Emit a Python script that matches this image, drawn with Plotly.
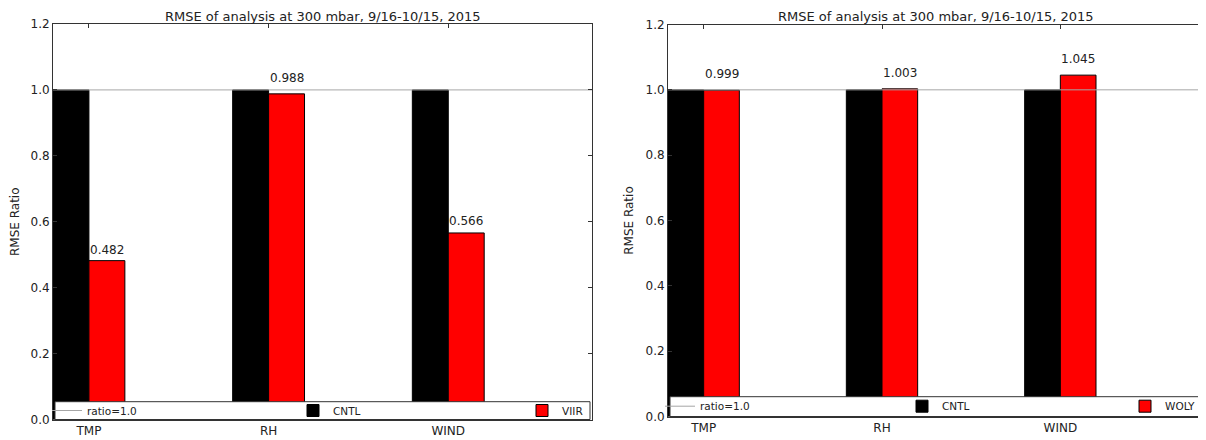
import numpy as np
import plotly.graph_objects as go

# ---------------- data ----------------
categories = ["TMP", "RH", "WIND"]
cntl_left = [1.0, 1.0, 1.0]
viir = [0.482, 0.988, 0.566]
cntl_right = [1.0, 1.0, 1.0]
woly = [0.999, 1.003, 1.045]
ratio_ref = 1.0
y_ticks = [0.0, 0.2, 0.4, 0.6, 0.8, 1.0, 1.2]
title_text = "RMSE of analysis at 300 mbar, 9/16-10/15, 2015"
exp_names = ["VIIR", "WOLY"]

# ---------------- layout helpers ----------------
# page body has an 8px default margin, so the figure is offset by 8px
OFF = 8
W, H = 1206 - OFF, 440 - OFF
ind = np.arange(len(categories))
bar_w = 0.2
x_range = [0, 3.0]
FONT = "DejaVu Sans"
TXT = "#222222"
FRAME = "#333333"


def px_x(p):
    return (p - OFF) / W


def px_y(p):
    return 1 - (p - OFF) / H


panels = [
    dict(xd=[px_x(53), px_x(592)], yd=[px_y(419.5), px_y(24)], cntl=cntl_left, exp=viir,
         ename=exp_names[0], ax="", leg=["legend", "legend2", "legend3"],
         leg_x=[47, 293, 522], leg_y=410.5, box_top=401.7, box_bot=419.5, box_l=55, box_r=590),
    dict(xd=[px_x(668), px_x(1203)], yd=[px_y(416.5), px_y(24.5)], cntl=cntl_right, exp=woly,
         ename=exp_names[1], ax="2", leg=["legend4", "legend5", "legend6"],
         leg_x=[660, 902, 1125], leg_y=406.2, box_top=396.7, box_bot=416.5, box_l=670, box_r=1201),
]

fig = go.Figure()
annotations = []
shapes = []
layout_extra = {}

for p in panels:
    xa = "x" + p["ax"]
    ya = "y" + p["ax"]
    # bars
    fig.add_trace(go.Bar(x=ind, y=p["cntl"], width=bar_w, offset=0, name="CNTL",
                         marker=dict(color="#000000", line=dict(color="#000000", width=1)),
                         xaxis=xa, yaxis=ya, legend=p["leg"][1]))
    fig.add_trace(go.Bar(x=ind, y=p["exp"], width=bar_w, offset=bar_w, name=p["ename"],
                         marker=dict(color="#ff0000", line=dict(color="#000000", width=1)),
                         xaxis=xa, yaxis=ya, legend=p["leg"][2]))
    # ratio line
    fig.add_trace(go.Scatter(x=x_range, y=[ratio_ref, ratio_ref], mode="lines", name="ratio=1.0",
                             line=dict(color="#a6a6a6", width=1), xaxis=xa, yaxis=ya,
                             legend=p["leg"][0]))
    # value labels
    for i, v in enumerate(p["exp"]):
        annotations.append(dict(x=ind[i] + 1.5 * bar_w, y=1.03 * v, xref=xa, yref=ya,
                                text="%.3f" % v, showarrow=False, yanchor="bottom", yshift=-3,
                                xanchor="center", font=dict(size=12, color=TXT, family=FONT)))
    # title
    annotations.append(dict(x=(p["xd"][0] + p["xd"][1]) / 2, y=px_y(16.5), xref="paper", yref="paper",
                            text=title_text, showarrow=False, xanchor="center", yanchor="middle",
                            font=dict(size=13, color=TXT, family=FONT)))
    # legend box
    shapes.append(dict(type="rect", xref="paper", yref="paper",
                       x0=px_x(p["box_l"]), x1=px_x(p["box_r"]),
                       y0=px_y(p["box_bot"]), y1=px_y(p["box_top"]),
                       fillcolor="white", line=dict(color=FRAME, width=1), layer="above"))
    for k, lg in enumerate(p["leg"]):
        layout_extra[lg] = dict(x=px_x(p["leg_x"][k]), xanchor="left", y=px_y(p["leg_y"]),
                                yanchor="middle", bgcolor="rgba(0,0,0,0)", borderwidth=0,
                                orientation="h", font=dict(size=10.5, color=TXT, family=FONT))
    axis_common = dict(showline=True, linecolor=FRAME, linewidth=1, mirror="allticks",
                       ticks="inside", ticklen=4, tickcolor=FRAME, showgrid=False,
                       zeroline=False, automargin=False,
                       tickfont=dict(size=12, color=TXT, family=FONT))
    layout_extra["xaxis" + p["ax"]] = dict(domain=p["xd"], range=x_range, tickvals=ind + bar_w,
                                           ticktext=categories, anchor=ya, **axis_common)
    layout_extra["yaxis" + p["ax"]] = dict(domain=p["yd"], range=[0, 1.2], tickvals=y_ticks,
                                           ticktext=["%.1f" % t for t in y_ticks], anchor=xa,
                                           title=dict(text="RMSE Ratio", standoff=9,
                                                      font=dict(size=12, color=TXT, family=FONT)),
                                           **axis_common)

fig.update_layout(
    width=W, height=H, template="none",
    margin=dict(l=0, r=0, t=0, b=0),
    plot_bgcolor="white", paper_bgcolor="white",
    font=dict(family=FONT, color=TXT),
    barmode="overlay", showlegend=True,
    annotations=annotations, shapes=shapes,
    **layout_extra,
)

fig.write_html("out.html")
